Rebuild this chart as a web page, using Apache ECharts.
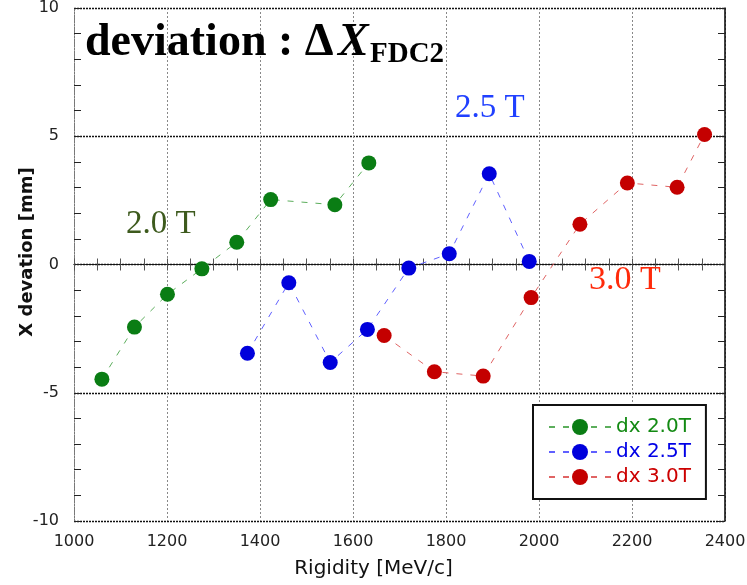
<!DOCTYPE html>
<html>
<head>
<meta charset="utf-8">
<script src="https://cdn.jsdelivr.net/npm/echarts@6/dist/echarts.min.js"></script>
<style>
  html, body { margin: 0; padding: 0; background: #fff; }
  #chart { width: 747px; height: 585px; }
</style>
</head>
<body>
<div id="chart"></div>
<script>
// Rigidity [MeV/c] and X deviation [mm] for the three field settings
const rig20 = [1060, 1130, 1201, 1275, 1350, 1423, 1561, 1634];
const dev20 = [-4.47, -2.44, -1.16, -0.17, 0.87, 2.53, 2.33, 3.96];

const rig25 = [1373, 1462, 1551, 1631, 1720, 1807, 1893, 1979];
const dev25 = [-3.46, -0.71, -3.82, -2.53, -0.14, 0.42, 3.54, 0.12];

const rig30 = [1667, 1775, 1880, 1983, 2088, 2190, 2297, 2356];
const dev30 = [-2.77, -4.18, -4.35, -1.29, 1.57, 3.18, 3.01, 5.07];

const seriesNames = ['dx 2.0T', 'dx 2.5T', 'dx 3.0T'];
const xTicks = [1000, 1200, 1400, 1600, 1800, 2000, 2200, 2400];
const yTicks = [-10, -5, 0, 5, 10];

const markerColors = ['#0a7d14', '#0000dc', '#c40000'];
const lineColors = ['#5cae5c', '#6060ff', '#e06464'];
const legendTextColors = ['#138a13', '#0000e6', '#cc0000'];

const pairs = (xs, ys) => xs.map((x, i) => [x, ys[i]]);
const dataSets = [pairs(rig20, dev20), pairs(rig25, dev25), pairs(rig30, dev30)];

const chart = echarts.init(document.getElementById('chart'), null, { renderer: 'canvas' });

const plain = v => String(v);
const tickFont = { fontFamily: 'DejaVu Sans', fontSize: 16, color: '#222', formatter: plain };

const xBase = {
  type: 'value', min: xTicks[0], max: xTicks[xTicks.length - 1], interval: 200,
  axisTick: { show: true, inside: true, length: 6, lineStyle: { color: '#555', width: 1 } },
  minorTick: { show: true, splitNumber: 4, length: 6, lineStyle: { color: '#555', width: 1 } }
};
const yBase = {
  type: 'value', min: yTicks[0], max: yTicks[yTicks.length - 1], interval: 5,
  axisTick: { show: true, inside: true, length: 7, lineStyle: { color: '#222', width: 1 } },
  minorTick: { show: true, splitNumber: 5, length: 7, lineStyle: { color: '#222', width: 1 } }
};

const option = {
  backgroundColor: '#fff',
  animation: false,
  grid: { left: 74, right: 22, top: 8, bottom: 64, containLabel: false, outerBoundsMode: 'none' },
  xAxis: [
    Object.assign({}, xBase, {
      position: 'bottom',
      axisLine: { show: true, lineStyle: { color: '#777', type: [2, 1], width: 1 } },
      axisLabel: Object.assign({ margin: 13 }, tickFont),
      splitLine: { show: true, lineStyle: { color: '#888', type: [2, 2], width: 1 } }
    }),
    Object.assign({}, xBase, {
      position: 'top',
      axisLine: { show: true, lineStyle: { color: '#111', type: [2, 1], width: 1.2 } },
      axisLabel: Object.assign({ margin: 7 }, tickFont),
      splitLine: { show: false }
    })
  ],
  yAxis: [
    Object.assign({}, yBase, {
      position: 'left',
      axisLine: { show: true, lineStyle: { color: '#777', type: [2, 1], width: 1 } },
      axisLabel: Object.assign({ margin: 15 }, tickFont),
      splitLine: { show: true, lineStyle: { color: '#111', type: [2, 1], width: 1.3 } }
    }),
    Object.assign({}, yBase, {
      position: 'right',
      axisLine: { show: true, lineStyle: { color: '#000', width: 1.5 } },
      axisLabel: { show: false },
      splitLine: { show: false }
    })
  ],
  legend: {
    orient: 'vertical',
    left: 533, top: 405,
    padding: [12, 15, 12, 15],
    itemGap: 5,
    itemWidth: 62, itemHeight: 20,
    borderColor: '#111', borderWidth: 2, backgroundColor: '#fff',
    textStyle: { fontFamily: 'DejaVu Sans', fontSize: 20 },
    data: seriesNames.map((n, i) => ({ name: n, textStyle: { color: legendTextColors[i] } }))
  },
  series: dataSets.map((d, i) => ({
    name: seriesNames[i],
    type: 'line',
    xAxisIndex: 0, yAxisIndex: 0,
    data: d,
    symbol: 'circle',
    symbolSize: 15,
    itemStyle: { color: markerColors[i] },
    lineStyle: { color: lineColors[i], width: 1, type: [6, 8] },
    z: 3
  })),
  graphic: [
    { type: 'text', left: 85, top: 20, z: 10,
      style: { text: 'deviation : \u0394', font: 'bold 46px "Liberation Serif"', fill: '#000' } },
    { type: 'text', left: 338, top: 20, z: 10,
      style: { text: 'X', font: 'italic bold 46px "Liberation Serif"', fill: '#000' } },
    { type: 'text', left: 370, top: 40, z: 10,
      style: { text: 'FDC2', font: 'bold 29px "Liberation Serif"', fill: '#000' } },
    { type: 'text', left: 126, top: 208, z: 10,
      style: { text: '2.0 T', font: '33px "Liberation Serif"', fill: '#3d5a1d' } },
    { type: 'text', left: 455, top: 92, z: 10,
      style: { text: '2.5 T', font: '33px "Liberation Serif"', fill: '#2040ff' } },
    { type: 'text', left: 589, top: 263, z: 10,
      style: { text: '3.0 T', font: '34px "Liberation Serif"', fill: '#ff2a0a' } },
    { type: 'text', left: 'center', top: 559, z: 10,
      style: { text: 'Rigidity [MeV/c]', font: '20px "DejaVu Sans"', fill: '#111' } },
    { type: 'text', x: 27, y: 252, rotation: Math.PI / 2, z: 10,
      style: { text: 'X devation [mm]', font: 'bold 18px "DejaVu Sans"', fill: '#111',
               align: 'center', verticalAlign: 'middle' } }
  ]
};

chart.setOption(option);
</script>
</body>
</html>
